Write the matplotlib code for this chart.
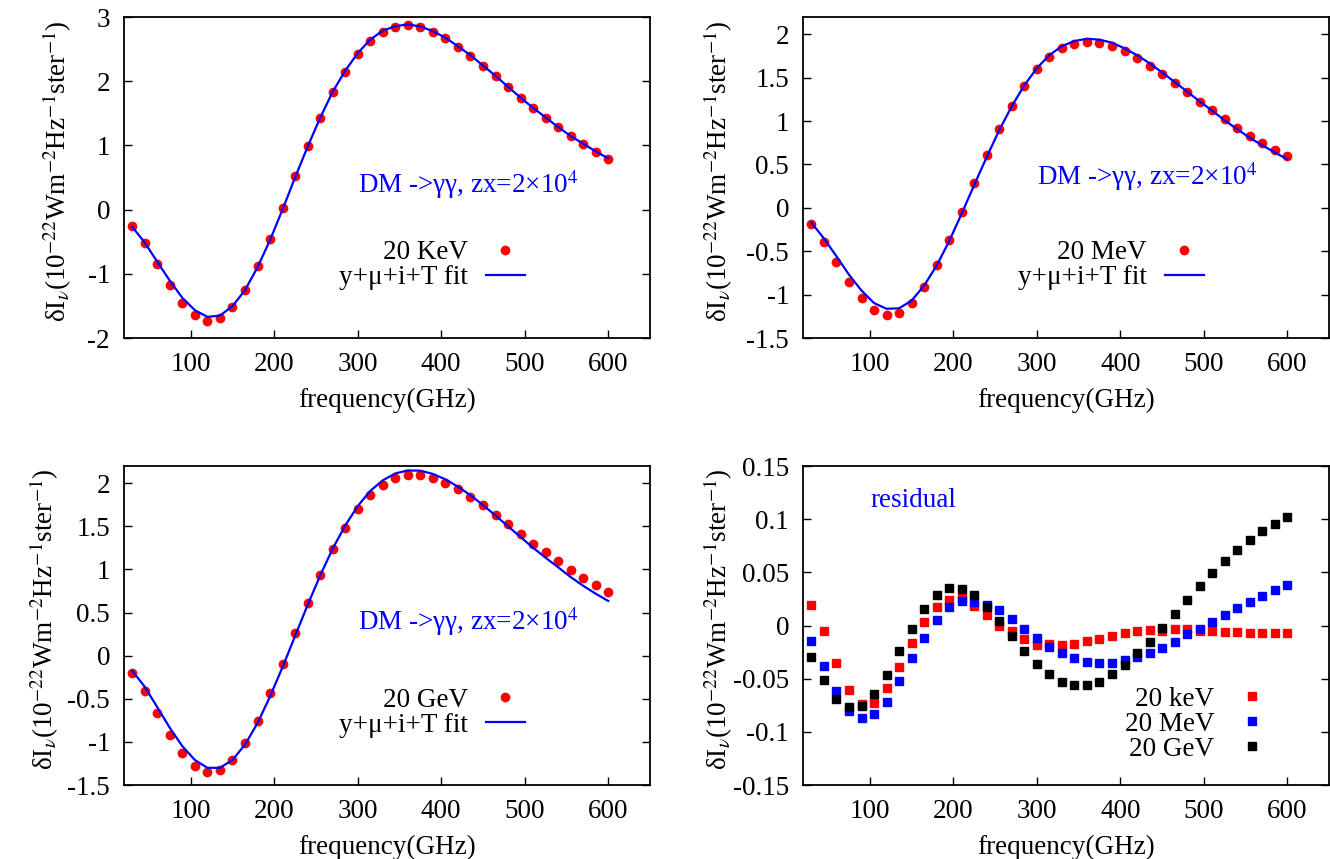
import matplotlib
matplotlib.use("Agg")
import numpy as np
import matplotlib.pyplot as plt
from matplotlib.ticker import FuncFormatter

plt.rcParams['font.family'] = ['Liberation Serif', 'DejaVu Serif']
plt.rcParams['mathtext.fontset'] = 'stix'
plt.rcParams['axes.unicode_minus'] = False

# frequencies (GHz)
freq = [30, 45, 60, 75, 90, 105, 120, 135, 150, 165, 180, 195, 210,
        225, 240, 255, 270, 285, 300, 315, 330, 345, 360, 375, 390, 405,
        420, 435, 450, 465, 480, 495, 510, 525, 540, 555, 570, 585, 600]

# distortion signal for each DM mass
dI_kev = [-0.25, -0.52, -0.85, -1.17, -1.45, -1.64, -1.73, -1.69, -1.52, -1.25,
          -0.88, -0.45, 0.03, 0.52, 0.99, 1.43, 1.83, 2.15, 2.42, 2.63,
          2.77, 2.84, 2.87, 2.84, 2.77, 2.67, 2.54, 2.40, 2.24, 2.08,
          1.91, 1.74, 1.58, 1.43, 1.28, 1.14, 1.02, 0.90, 0.79]
dI_mev = [-0.185, -0.39, -0.62, -0.85, -1.04, -1.18, -1.235, -1.21, -1.10, -0.907,
          -0.66, -0.367, -0.042, 0.286, 0.606, 0.911, 1.178, 1.409, 1.598, 1.741,
          1.838, 1.892, 1.915, 1.903, 1.869, 1.807, 1.73, 1.641, 1.54, 1.436,
          1.332, 1.224, 1.124, 1.019, 0.923, 0.83, 0.749, 0.672, 0.598]
dI_gev = [-0.205, -0.413, -0.668, -0.915, -1.127, -1.274, -1.347, -1.324, -1.212, -1.015,
          -0.753, -0.436, -0.097, 0.259, 0.606, 0.934, 1.232, 1.486, 1.699, 1.865,
          1.981, 2.058, 2.093, 2.093, 2.062, 2.008, 1.934, 1.846, 1.745, 1.637,
          1.525, 1.413, 1.301, 1.197, 1.097, 0.992, 0.90, 0.815, 0.737]

# residuals (signal - fit)
res_kev = [0.0194, -0.005, -0.035, -0.061, -0.074, -0.073, -0.059, -0.039, -0.016, 0.0034,
           0.0175, 0.024, 0.026, 0.018, 0.0097, 0.0, -0.0056, -0.013, -0.018, -0.017,
           -0.018, -0.017, -0.015, -0.0125, -0.0097, -0.0069, -0.005, -0.004, -0.005, -0.0034,
           -0.003, -0.0047, -0.005, -0.006, -0.006, -0.0069, -0.0069, -0.0075, -0.0075]
res_mev = [-0.0144, -0.038, -0.062, -0.08, -0.087, -0.083, -0.072, -0.0525, -0.031, -0.0116,
           0.0056, 0.017, 0.0234, 0.022, 0.019, 0.0147, 0.006, -0.003, -0.0116, -0.02,
           -0.026, -0.031, -0.034, -0.0356, -0.035, -0.032, -0.03, -0.0256, -0.021, -0.0153,
           -0.0084, -0.003, 0.0034, 0.01, 0.0166, 0.022, 0.028, 0.033, 0.0378]
res_gev = [-0.0294, -0.051, -0.069, -0.077, -0.076, -0.064, -0.0466, -0.0238, -0.0028, 0.0156,
           0.029, 0.0353, 0.0344, 0.029, 0.0175, 0.004, -0.0097, -0.0238, -0.036, -0.046,
           -0.053, -0.0556, -0.0556, -0.053, -0.046, -0.0375, -0.026, -0.0153, -0.002, 0.011,
           0.024, 0.037, 0.049, 0.061, 0.071, 0.080, 0.089, 0.0956, 0.102]

# the y+mu+i+T fit is the signal minus its residual
fit_kev = np.array(dI_kev) - np.array(res_kev)
fit_mev = np.array(dI_mev) - np.array(res_mev)
fit_gev = np.array(dI_gev) - np.array(res_gev)

FS = 19.5
ylab = 'δI$_{\\nu}$(10$^{-22}$Wm$^{-2}$Hz$^{-1}$ster$^{-1}$)'
note = 'DM ->γγ, zx=2×10$^{4}$'


def style(ax, ylim, yticks, ylabx):
    ax.set_xlim(20, 650)
    ax.set_ylim(*ylim)
    ax.set_xticks([100, 200, 300, 400, 500, 600])
    ax.set_yticks(yticks)
    ax.yaxis.set_major_formatter(FuncFormatter(lambda v, p: '%g' % round(v, 4)))
    ax.tick_params(direction='in', length=6, width=1, right=True, top=False,
                   labelsize=FS, pad=10)
    for s in ax.spines.values():
        s.set_linewidth(1.3)
    ax.set_xlabel('frequency(GHz)', fontsize=FS, labelpad=8)
    ax.set_ylabel(ylab, fontsize=FS)
    ax.yaxis.set_label_coords(ylabx, 0.52)


fig = plt.figure(figsize=(13.3, 8.59), dpi=100)
ax1 = fig.add_axes([0.0932, 0.6065, 0.3955, 0.3737])
ax2 = fig.add_axes([0.6038, 0.6065, 0.3955, 0.3737])
ax3 = fig.add_axes([0.0932, 0.0861, 0.3955, 0.3714])
ax4 = fig.add_axes([0.6038, 0.0861, 0.3955, 0.3714])

panels = [(ax1, dI_kev, fit_kev, '20 KeV', (-2, 3), [-2, -1, 0, 1, 2, 3], -0.095, 0.451),
          (ax2, dI_mev, fit_mev, '20 MeV', (-1.5, 2.2), [-1.5, -1, -0.5, 0, 0.5, 1, 1.5, 2], -0.13, 0.478),
          (ax3, dI_gev, fit_gev, '20 GeV', (-1.5, 2.2), [-1.5, -1, -0.5, 0, 0.5, 1, 1.5, 2], -0.12, 0.486)]

for ax, obs, fit, lab, ylim, yt, ylx, ny in panels:
    ax.plot(freq, obs, 'o', color='#ff0000', markersize=6, label=lab, zorder=2)
    ax.plot(freq, fit, '-', color='#0000ff', linewidth=1.6, label='y+μ+i+T fit', zorder=3)
    style(ax, ylim, yt, ylx)
    ax.text(0.445, ny, note, transform=ax.transAxes, color='#0000ff',
            fontsize=FS, ha='left', va='baseline')
    ax.legend(frameon=False, markerfirst=False, loc='center right',
              bbox_to_anchor=(0.762, 0.226), handlelength=1.45, handletextpad=0.65,
              labelspacing=0.0, borderpad=0, borderaxespad=0, fontsize=FS, numpoints=1)

# residual panel
ax4.plot(freq, res_kev, 's', color='#ff0000', markersize=6.3, label='20 keV')
ax4.plot(freq, res_mev, 's', color='#0000ff', markersize=6.3, label='20 MeV')
ax4.plot(freq, res_gev, 's', color='black', markersize=6.3, label='20 GeV')
style(ax4, (-0.15, 0.15), [-0.15, -0.1, -0.05, 0, 0.05, 0.1, 0.15], -0.13)
ax4.text(0.129, 0.872, 'residual', transform=ax4.transAxes, color='#0000ff',
         fontsize=FS, ha='left', va='baseline')
ax4.legend(frameon=False, markerfirst=False, loc='center right',
           bbox_to_anchor=(0.890, 0.19), handlelength=1.45, handletextpad=0.65,
           labelspacing=0.0, borderpad=0, borderaxespad=0, fontsize=FS, numpoints=1)

fig.savefig('out.png', dpi=100)
